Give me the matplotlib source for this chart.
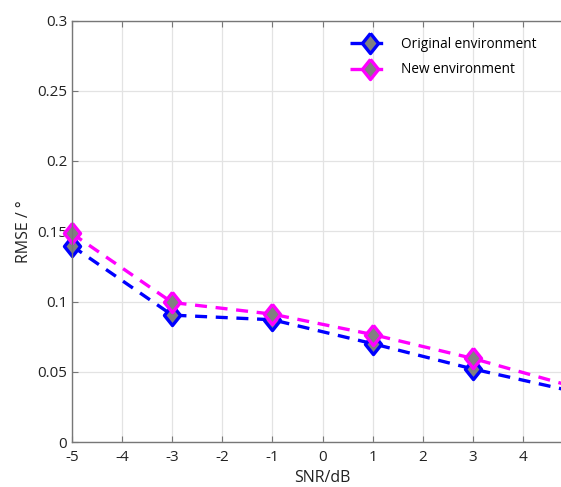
import numpy as np
import matplotlib
matplotlib.use("Agg")
import matplotlib.pyplot as plt

plt.rcParams['font.family'] = ['Open Sans', 'DejaVu Sans']
plt.rcParams['axes.unicode_minus'] = False

snr = [-5, -3, -1, 1, 3, 5]
rmse_orig = [0.1395, 0.0903, 0.0870, 0.0700, 0.0520, 0.0360]
rmse_new = [0.1484, 0.0993, 0.0910, 0.0765, 0.0595, 0.0394]
xticks = [-5, -4, -3, -2, -1, 0, 1, 2, 3, 4]
yticks = [0, 0.05, 0.1, 0.15, 0.2, 0.25, 0.3]
ytick_labels = ['0', '0.05', '0.1', '0.15', '0.2', '0.25', '0.3']

# slightly tall diamond
diamond = [(0, 1), (0.8, 0), (0, -1), (-0.8, 0), (0, 1)]

fig = plt.figure(figsize=(5.61, 4.87), dpi=100)
ax = fig.add_axes([72 / 561, 45 / 487, 501 / 561, 421.5 / 487])

ax.plot(snr, rmse_orig, linestyle=(0, (3.6, 2.6)), color='#0000ff', linewidth=2.4,
        marker=diamond, markersize=14.5, markerfacecolor='#808080',
        markeredgecolor='#0000ff', markeredgewidth=2.4, label='Original environment',
        clip_on=False)
ax.plot(snr, rmse_new, linestyle=(0, (3.6, 2.6)), color='#ff00ff', linewidth=2.4,
        marker=diamond, markersize=14.5, markerfacecolor='#808080',
        markeredgecolor='#ff00ff', markeredgewidth=2.4, label='New environment',
        clip_on=False)

ax.set_xlim(-5, 5)
ax.set_ylim(0, 0.3)
ax.set_xticks(xticks)
ax.set_yticks(yticks)
ax.set_yticklabels(ytick_labels)
ax.grid(True, color='#e3e3e3', linewidth=0.9)
ax.set_axisbelow(True)
ax.tick_params(direction='in', top=True, right=True, colors='#777777',
               labelcolor='#222222', labelsize=11, length=4)
ax.tick_params(axis='x', pad=6)
for s in ax.spines.values():
    s.set_color('#777777')
    s.set_linewidth(1.0)

ax.set_xlabel('SNR/dB', fontsize=11.5, color='#222222', labelpad=3)
ax.set_ylabel('RMSE / °', fontsize=11.5, color='#222222', labelpad=4)

ax.legend(loc='upper right', bbox_to_anchor=(549 / 561, 462 / 487),
          bbox_transform=fig.transFigure, frameon=False, fontsize=9.8,
          handlelength=3.0, handletextpad=0.8, labelspacing=0.75)

fig.savefig('out.png', dpi=100)
